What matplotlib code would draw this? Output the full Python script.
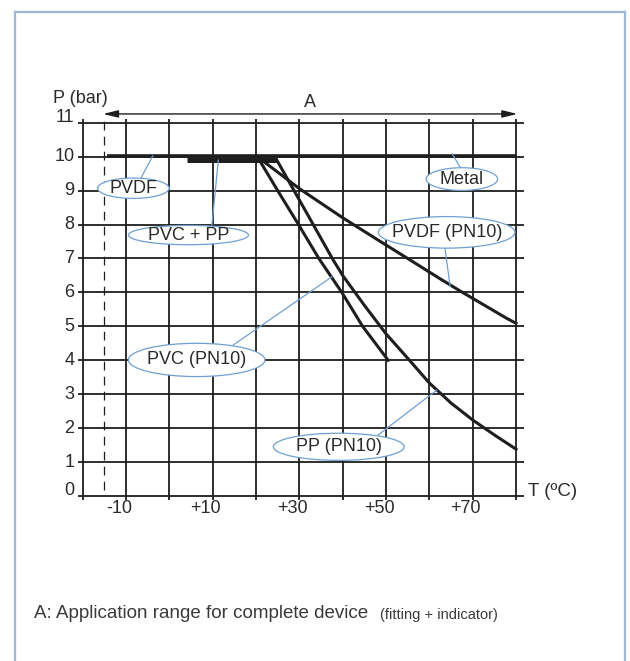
import matplotlib
matplotlib.use("Agg")
import matplotlib.pyplot as plt
from matplotlib.patches import Ellipse
from matplotlib.lines import Line2D

plt.rcParams['font.family'] = ['Liberation Sans', 'DejaVu Sans']

# values (T in degC, P in bar)
metal_T = [-14.5, 80]
metal_P = [10.02, 10.02]
pvcpp_T = [4, 24.8]
pvcpp_P = [9.9, 9.9]
pvdf_T = [20.3, 30.1, 40, 48.7, 55, 62.5, 67, 77.8, 80]
pvdf_P = [10, 9.05, 8.2, 7.5, 7.0, 6.4, 6.05, 5.24, 5.09]
pvc_T = [20.3, 25.0, 29.8, 34.5, 39.8, 44.6, 50.5]
pvc_P = [10, 9, 8, 7, 6, 5, 4]
pp_T = [24.8, 29, 33.2, 37.6, 40, 45, 50, 55, 60, 65, 70, 75, 80]
pp_P = [9.9, 8.95, 8.0, 7.0, 6.5, 5.62, 4.78, 4.06, 3.33, 2.74, 2.24, 1.8, 1.38]

x_ticks = [-10, 10, 30, 50, 70]
x_labels = ["-10", "+10", "+30", "+50", "+70"]
y_ticks = list(range(0, 12))
grid_x = list(range(-20, 81, 10))

# labels: text, centre, ellipse size, leader line
labels = [
    ("PVDF", (-8.3, 9.07), (16.5, 0.6), [(-6.8, -3.85), (9.31, 10.02)]),
    ("PVC + PP", (4.4, 7.69), (27.7, 0.57), [(9.8, 11.3), (7.96, 9.9)]),
    ("Metal", (67.5, 9.34), (16.5, 0.67), [(67.1, 65.3), (9.69, 10.08)]),
    ("PVDF (PN10)", (64.0, 7.77), (31.5, 0.93), [(63.6, 64.8), (7.3, 6.17)]),
    ("PVC (PN10)", (6.3, 4.01), (31.5, 0.98), [(14.75, 37.5), (4.45, 6.46)]),
    ("PP (PN10)", (39.1, 1.45), (30.2, 0.80), [(48.2, 61.7), (1.8, 3.12)]),
]

ink = "#1e1e1e"
txt = "#2a2a2a"
blue = "#6f9fd3"

fig = plt.figure(figsize=(6.3, 6.61), dpi=100)
ax = fig.add_axes([0, 0, 1, 1])
ax.set_xlim(-39.08, 106.3)
ax.set_ylim(-4.863, 14.618)
ax.axis("off")

# frame
fc = "#9fb7d6"
fig.add_artist(Line2D([15/630, 15/630], [0, 1 - 12/661], color=fc, lw=1.6, transform=fig.transFigure))
fig.add_artist(Line2D([15/630, 624.5/630], [1 - 12/661, 1 - 12/661], color=fc, lw=1.6, transform=fig.transFigure))
fig.add_artist(Line2D([624.5/630, 624.5/630], [0, 1 - 12/661], color=fc, lw=1.6, transform=fig.transFigure))

# grid
ax.hlines(y_ticks, -21.1, 81.8, color=ink, lw=1.3, zorder=1)
ax.vlines(grid_x, -0.12, 11.1, color=ink, lw=1.3, zorder=1)
ax.vlines([-15], 0.18, 11.08, color=ink, lw=0.9, linestyles=(0, (7, 5)), zorder=1)

# curves
ax.plot(metal_T, metal_P, color=ink, lw=2.6, solid_capstyle="butt", zorder=3)
ax.plot(pvcpp_T, pvcpp_P, color=ink, lw=3.6, solid_capstyle="butt", zorder=3)
for T, P in [(pvdf_T, pvdf_P), (pvc_T, pvc_P), (pp_T, pp_P)]:
    ax.plot(T, P, color=ink, lw=2.2, zorder=3)

# range arrow A
ax.annotate("", xy=(80.3, 11.26), xytext=(-15.3, 11.26),
            arrowprops=dict(arrowstyle="<|-|>,head_length=0.9,head_width=0.22",
                            color=ink, lw=1.0, shrinkA=0, shrinkB=0))
ax.text(32.5, 11.6, "A", ha="center", va="center", fontsize=13, color=txt)

# axis labels and ticks
ax.text(-26.9, 11.72, "P (bar)", ha="left", va="center", fontsize=13, color=txt)
ax.text(82.8, 0.12, "T (ºC)", ha="left", va="center", fontsize=13.5, color=txt)
for v in y_ticks:
    dy = 0.15 if v in (0, 11) else 0
    ax.text(-21.9, v + dy, str(v), ha="right", va="center", fontsize=13, color=txt)
for v, s in zip(x_ticks, x_labels):
    ax.text(v - 1.6, -0.36, s, ha="center", va="center", fontsize=13, color=txt)

# callouts
for s, c, (w, h), (lx, ly) in labels:
    ax.plot(lx, ly, color=blue, lw=0.9, zorder=4)
    ax.add_patch(Ellipse(c, w, h, facecolor="white", edgecolor=blue, lw=0.9, zorder=5))
    ax.text(c[0], c[1], s, ha="center", va="center", fontsize=13, color=txt, zorder=6)

# footnote
fig.text(34/630, 1 - 614/661, "A: Application range for complete device", ha="left", va="center",
         fontsize=13.5, color="#3a3a3a")
fig.text(380/630, 1 - 615/661, "(fitting + indicator)", ha="left", va="center",
         fontsize=10.5, color="#3a3a3a")

fig.savefig("out.png", dpi=100)
